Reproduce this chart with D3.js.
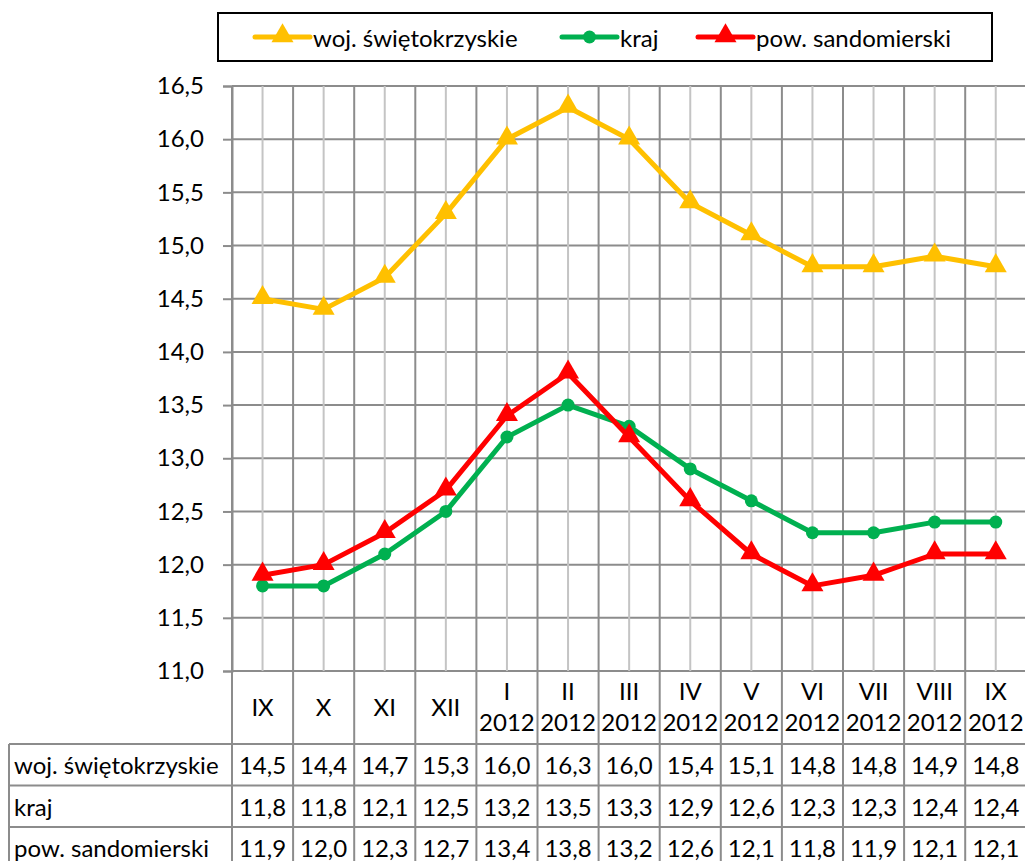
<!DOCTYPE html>
<meta charset="utf-8">
<style>
    body { margin: 0; background: #fff; }
    text { font-family: Lato, "Open Sans", sans-serif; fill: #000; }
</style>
<div class="chart"></div>
<script src="https://cdn.jsdelivr.net/npm/d3@7"></script>
<script>
    // data
    var months = ["IX", "X", "XI", "XII", "I", "II", "III", "IV", "V", "VI", "VII", "VIII", "IX"];
    var years = ["", "", "", "", "2012", "2012", "2012", "2012", "2012", "2012", "2012", "2012", "2012"];
    var seriesNames = ["woj. świętokrzyskie", "kraj", "pow. sandomierski"];
    var wojValues = [14.5, 14.4, 14.7, 15.3, 16.0, 16.3, 16.0, 15.4, 15.1, 14.8, 14.8, 14.9, 14.8];
    var krajValues = [11.8, 11.8, 12.1, 12.5, 13.2, 13.5, 13.3, 12.9, 12.6, 12.3, 12.3, 12.4, 12.4];
    var powValues = [11.9, 12.0, 12.3, 12.7, 13.4, 13.8, 13.2, 12.6, 12.1, 11.8, 11.9, 12.1, 12.1];
    var yTicks = [11, 11.5, 12, 12.5, 13, 13.5, 14, 14.5, 15, 15.5, 16, 16.5];

    var W = 1025, H = 861;
    var plot = {left: 232, top: 86, bottom: 671, band: 61.1};
    var tableTop = 744, rowH = 41.5, tableLeft = 9;
    var fs = 24;

    var series = [
        {name: seriesNames[0], values: wojValues, color: "#FFC000", marker: "triangle"},
        {name: seriesNames[1], values: krajValues, color: "#00B050", marker: "circle"},
        {name: seriesNames[2], values: powValues, color: "#FF0000", marker: "triangle"}
    ];

    var keys = months.map(function(d, i) { return i; });
    var fmt = function(v) { return d3.format(".1f")(v).replace(".", ","); };

    var x = d3.scaleBand()
        .domain(keys)
        .range([plot.left, plot.left + plot.band * keys.length]);

    var y = d3.scaleLinear()
        .domain([11, 16.5])
        .range([plot.bottom, plot.top]);

    var svg = d3.select(".chart").append("svg")
        .attr("width", W)
        .attr("height", H);

    // horizontal gridlines
    svg.append("g").selectAll("line")
        .data(yTicks)
        .enter().append("line")
        .attr("x1", plot.left).attr("x2", x.range()[1])
        .attr("y1", function(d) { return y(d); })
        .attr("y2", function(d) { return y(d); })
        .attr("stroke", "#8c8c8c").attr("stroke-width", 2);

    // vertical gridlines: category centres (light) and boundaries (dark)
    svg.append("g").selectAll("line")
        .data(keys)
        .enter().append("line")
        .attr("x1", function(d) { return x(d) + x.bandwidth() / 2; })
        .attr("x2", function(d) { return x(d) + x.bandwidth() / 2; })
        .attr("y1", plot.top).attr("y2", plot.bottom)
        .attr("stroke", "#c4c4c4").attr("stroke-width", 2);

    svg.append("g").selectAll("line")
        .data(keys)
        .enter().append("line")
        .attr("x1", function(d) { return x(d); })
        .attr("x2", function(d) { return x(d); })
        .attr("y1", plot.top).attr("y2", tableTop + rowH * 3 + 5)
        .attr("stroke", "#8c8c8c").attr("stroke-width", 2);

    // y axis
    var yAxis = d3.axisLeft(y)
        .tickValues(yTicks)
        .tickSize(9)
        .tickPadding(19)
        .tickFormat(fmt);

    var ay = svg.append("g")
        .attr("transform", "translate(" + plot.left + ",0)")
        .call(yAxis);
    ay.select(".domain").attr("stroke", "#8c8c8c").attr("stroke-width", 2);
    ay.selectAll(".tick line").attr("stroke", "#8c8c8c").attr("stroke-width", 2);
    ay.selectAll(".tick text")
        .attr("font-size", fs)
        .style("font-family", "Lato, sans-serif")
        .attr("fill", "#000");

    // category labels
    var cat = svg.append("g");
    cat.selectAll("text.m")
        .data(keys)
        .enter().append("text")
        .attr("class", "m")
        .attr("x", function(d) { return x(d) + x.bandwidth() / 2; })
        .attr("y", function(d) { return years[d] ? 690 : 706; })
        .attr("text-anchor", "middle")
        .attr("dominant-baseline", "central")
        .attr("font-size", fs)
        .text(function(d) { return months[d]; });
    cat.selectAll("text.yr")
        .data(keys.filter(function(d) { return years[d]; }))
        .enter().append("text")
        .attr("class", "yr")
        .attr("x", function(d) { return x(d) + x.bandwidth() / 2; })
        .attr("y", 721)
        .attr("text-anchor", "middle")
        .attr("dominant-baseline", "central")
        .attr("font-size", fs)
        .text(function(d) { return years[d]; });

    // data table
    var table = svg.append("g");
    series.forEach(function(s, r) {
        var ty = tableTop + r * rowH;
        table.append("line")
            .attr("x1", tableLeft).attr("x2", x.range()[1])
            .attr("y1", ty).attr("y2", ty)
            .attr("stroke", "#8c8c8c").attr("stroke-width", 2);
        table.append("text")
            .attr("x", tableLeft + 5)
            .attr("y", ty + rowH / 2)
            .attr("dominant-baseline", "central")
            .attr("font-size", fs)
            .text(s.name);
        table.selectAll(null)
            .data(s.values)
            .enter().append("text")
            .attr("x", function(d, i) { return x(i) + x.bandwidth() / 2; })
            .attr("y", ty + rowH / 2)
            .attr("text-anchor", "middle")
            .attr("dominant-baseline", "central")
            .attr("font-size", fs)
            .text(fmt);
    });
    table.append("line")
        .attr("x1", tableLeft).attr("x2", tableLeft)
        .attr("y1", tableTop).attr("y2", H)
        .attr("stroke", "#8c8c8c").attr("stroke-width", 2);

    // lines and markers
    var line = d3.line()
        .x(function(d, i) { return x(i) + x.bandwidth() / 2; })
        .y(function(d) { return y(d); });

    var tri = d3.symbol().type(d3.symbolTriangle).size(210);

    series.forEach(function(s) {
        var g = svg.append("g");
        g.append("path")
            .datum(s.values)
            .attr("d", line)
            .attr("fill", "none")
            .attr("stroke", s.color)
            .attr("stroke-width", 5)
            .attr("stroke-linejoin", "round");
        if (s.marker === "circle") {
            g.selectAll("circle")
                .data(s.values)
                .enter().append("circle")
                .attr("cx", function(d, i) { return x(i) + x.bandwidth() / 2; })
                .attr("cy", function(d) { return y(d); })
                .attr("r", 6.5)
                .attr("fill", s.color);
        } else {
            g.selectAll("path.mk")
                .data(s.values)
                .enter().append("path")
                .attr("class", "mk")
                .attr("d", tri)
                .attr("transform", function(d, i) {
                    return "translate(" + (x(i) + x.bandwidth() / 2) + "," + (y(d) - 1) + ")";
                })
                .attr("fill", s.color);
        }
    });

    // legend
    var legend = svg.append("g");
    legend.append("rect")
        .attr("x", 218).attr("y", 13)
        .attr("width", 774).attr("height", 48)
        .attr("fill", "#fff")
        .attr("stroke", "#000")
        .attr("stroke-width", 2);

    var legendX = [255, 562, 698];
    series.forEach(function(s, i) {
        var lx = legendX[i], ly = 37;
        legend.append("line")
            .attr("x1", lx).attr("x2", lx + 55)
            .attr("y1", ly).attr("y2", ly)
            .attr("stroke", s.color)
            .attr("stroke-width", 5)
            .attr("stroke-linecap", "round");
        if (s.marker === "circle") {
            legend.append("circle")
                .attr("cx", lx + 27.5).attr("cy", ly)
                .attr("r", 6.5).attr("fill", s.color);
        } else {
            legend.append("path")
                .attr("d", tri)
                .attr("transform", "translate(" + (lx + 27.5) + "," + (ly - 1) + ")")
                .attr("fill", s.color);
        }
        legend.append("text")
            .attr("x", lx + 58)
            .attr("y", ly)
            .attr("dominant-baseline", "central")
            .attr("font-size", fs)
            .text(s.name);
    });
</script>
